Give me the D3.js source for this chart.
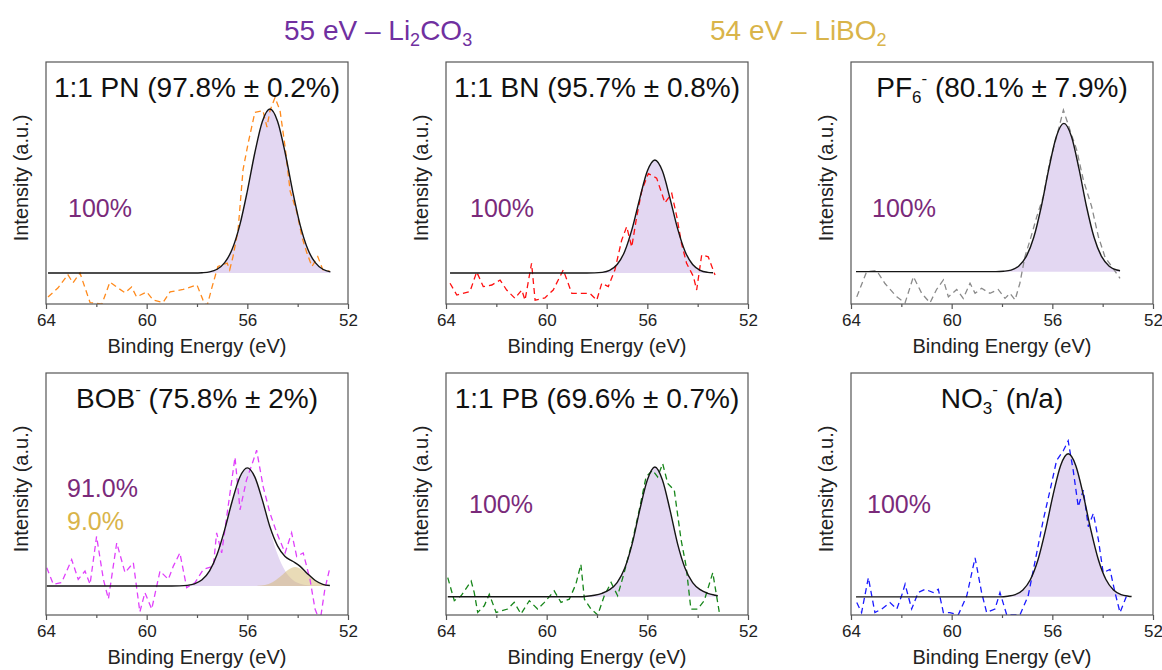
<!DOCTYPE html>
<html>
<head>
<meta charset="utf-8">
<script src="https://cdn.jsdelivr.net/npm/d3@7"></script>
<style>
  body { margin: 0; background: #fff; }
  svg text { font-family: "Liberation Sans", Arial, sans-serif; }
</style>
</head>
<body>
<svg id="chart" width="1162" height="670"></svg>
<script>
// binding energy axis (reversed, eV)
const energyDomain = [64, 52];
const majorTicks = [64, 60, 56, 52];
const minorTicks = [62, 58, 54];

// measured spectra, [eV, intensity normalised to fitted peak]
const pnRaw = [[63.92,-0.146],[63.52,-0.09],[63.13,-0.01],[62.93,-0.06],[62.65,0.0],[62.25,-0.18],[61.78,-0.19],
  [61.46,-0.055],[61.2,-0.085],[60.86,-0.12],[60.6,-0.085],[60.4,-0.146],[60.0,-0.115],[59.74,-0.165],[59.35,-0.18],
  [59.07,-0.115],[58.55,-0.1],[58.0,-0.073],[57.76,-0.165],[57.6,-0.2],[57.4,-0.085],[57.17,0.04],[56.8,0.06],
  [56.7,0.02],[56.57,0.1],[56.37,0.26],[56.17,0.63],[55.97,0.79],[55.7,0.98],[55.38,0.99],[55.22,0.89],[55.1,0.99],
  [54.9,1.07],[54.7,0.99],[54.5,0.77],[54.3,0.5],[54.03,0.37],[53.83,0.22],[53.63,0.12],[53.43,0.04],[53.2,0.1],
  [53.0,0.02],[52.72,0.01]];
const bnRaw = [[63.84,-0.09],[63.57,-0.195],[63.05,-0.165],[62.78,0.01],[62.52,-0.12],[62.18,-0.106],[61.85,-0.062],
  [61.59,-0.15],[61.26,-0.224],[60.99,-0.15],[60.86,-0.24],[60.6,0.086],[60.46,-0.24],[60.07,-0.22],[59.74,-0.15],
  [59.34,0.027],[59.0,-0.18],[58.6,-0.18],[58.28,-0.18],[58.01,-0.24],[57.81,-0.09],[57.55,-0.12],[57.29,0.027],
  [57.02,0.29],[56.82,0.41],[56.62,0.23],[56.42,0.5],[56.22,0.73],[55.96,0.88],[55.63,0.84],[55.3,0.62],[55.03,0.705],
  [54.83,0.5],[54.64,0.26],[54.44,0.086],[54.17,-0.03],[54.04,-0.15],[53.84,0.16],[53.58,0.144],[53.31,-0.018]];
const pf6Raw = [[63.77,-0.17],[63.38,0.0],[62.98,0.007],[62.65,-0.08],[62.18,-0.17],[61.85,-0.21],[61.52,-0.034],
  [61.19,-0.146],[60.86,-0.21],[60.6,-0.12],[60.33,-0.056],[60.13,-0.17],[59.8,-0.12],[59.54,-0.18],[59.27,-0.078],
  [59.07,-0.146],[58.81,-0.112],[58.48,-0.146],[58.15,-0.12],[57.88,-0.18],[57.68,-0.146],[57.48,-0.19],[57.29,-0.078],
  [57.09,0.1],[56.89,0.21],[56.62,0.37],[56.36,0.506],[56.09,0.75],[55.83,0.91],[55.56,1.09],[55.3,0.955],[55.03,0.82],
  [54.77,0.62],[54.44,0.44],[54.17,0.236],[53.91,0.1],[53.64,0.034],[53.31,-0.045]];
const bobRaw = [[63.97,0.155],[63.71,0.014],[63.38,0.028],[62.98,0.224],[62.72,0.056],[62.45,0.126],[62.25,0.014],
  [61.99,0.42],[61.72,0.056],[61.52,-0.11],[61.19,0.365],[60.86,0.113],[60.53,0.197],[60.27,-0.22],[60.07,-0.056],
  [59.8,-0.196],[59.47,0.126],[59.14,0.056],[58.94,0.168],[58.68,0.28],[58.41,-0.014],[58.08,0.028],[57.75,0.14],
  [57.35,0.168],[57.22,0.45],[57.02,0.28],[56.69,0.785],[56.49,1.09],[56.29,0.645],[56.03,0.9],[55.76,1.065],
  [55.63,1.15],[55.37,0.84],[55.1,0.617],[54.83,0.45],[54.5,0.28],[54.24,0.45],[54.04,0.25],[53.78,0.28],[53.51,0.056],
  [53.31,-0.196],[53.11,-0.3],[52.92,-0.028],[52.72,0.155]];
const pbRaw = [[63.93,0.148],[63.67,-0.03],[63.4,0.008],[63.0,0.122],[62.88,0.034],[62.74,-0.12],[62.48,-0.069],
  [62.28,0.02],[62.01,-0.12],[61.55,-0.094],[61.29,-0.043],[61.02,-0.132],[60.69,-0.03],[60.36,-0.094],[60.09,-0.043],
  [59.7,0.046],[59.43,-0.043],[59.1,-0.018],[58.84,0.097],[58.64,0.25],[58.5,-0.018],[58.24,-0.094],[57.97,-0.14],
  [57.71,0.008],[57.44,0.11],[57.18,0.008],[56.92,0.186],[56.58,0.44],[56.32,0.67],[56.05,0.924],[55.79,0.975],
  [55.59,0.924],[55.39,1.026],[55.19,0.873],[54.93,0.822],[54.66,0.44],[54.46,0.237],[54.27,-0.094],[54.0,-0.094],
  [53.74,-0.03],[53.4,0.186],[53.14,-0.12]];
const no3Raw = [[63.77,-0.04],[63.58,-0.11],[63.31,0.134],[63.05,-0.11],[62.78,-0.085],[62.45,-0.04],[62.18,-0.085],
  [61.99,0.007],[61.85,0.088],[61.59,-0.085],[61.33,0.03],[61.06,0.053],[60.73,0.03],[60.53,0.053],[60.33,-0.11],
  [60.07,-0.11],[59.74,-0.127],[59.4,0.007],[59.07,0.273],[58.81,0.03],[58.61,-0.11],[58.28,-0.085],[58.08,0.03],
  [57.81,-0.127],[57.29,-0.127],[56.96,0.007],[56.62,0.307],[56.36,0.538],[56.09,0.746],[55.83,0.954],[55.56,1.023],
  [55.37,1.09],[55.17,0.884],[54.97,0.63],[54.77,0.746],[54.57,0.49],[54.37,0.584],[54.17,0.4],[53.98,0.169],
  [53.71,0.192],[53.51,0.03],[53.31,-0.11],[53.05,0.007]];

// fitted Li2CO3 component (55 eV)
const pnFit = [[63.92,0],[58.1,0],[57.8,0.002],[57.5,0.007],[57.2,0.023],[56.9,0.063],[56.6,0.146],[56.3,0.292],
  [56.0,0.5],[55.7,0.735],[55.4,0.926],[55.1,1],[54.8,0.926],[54.5,0.735],[54.2,0.5],[53.9,0.292],[53.6,0.146],
  [53.3,0.063],[53.0,0.023],[52.7,0.007]];
const bnFit = [[63.84,0],[58.4,0],[58.1,0.001],[57.8,0.006],[57.5,0.024],[57.2,0.075],[56.9,0.191],[56.6,0.395],
  [56.3,0.661],[56.0,0.902],[55.7,1],[55.4,0.902],[55.1,0.661],[54.8,0.395],[54.5,0.191],[54.2,0.075],[53.9,0.024],
  [53.6,0.006],[53.39,0.002]];
const pf6Fit = [[63.8,0],[58.24,0],[57.94,0.003],[57.64,0.011],[57.34,0.037],[57.04,0.101],[56.74,0.23],[56.44,0.438],
  [56.14,0.693],[55.84,0.912],[55.54,1],[55.24,0.912],[54.94,0.693],[54.64,0.438],[54.34,0.23],[54.04,0.101],
  [53.74,0.037],[53.44,0.011],[53.31,0.006]];
const bobFit = [[63.97,0],[59.0,0],[58.7,0.001],[58.4,0.005],[58.1,0.018],[57.8,0.052],[57.5,0.128],[57.2,0.268],
  [56.9,0.477],[56.6,0.72],[56.3,0.921],[56.0,1],[55.7,0.921],[55.4,0.72],[55.1,0.477],[54.8,0.268],[54.5,0.128],
  [54.2,0.052],[53.9,0.018],[53.6,0.005],[53.3,0.001],[53.0,0]];
const pbFit = [[63.93,0],[58.7,0],[58.4,0.004],[58.1,0.012],[57.8,0.027],[57.5,0.055],[57.2,0.11],[56.9,0.22],
  [56.6,0.41],[56.3,0.67],[56.0,0.9],[55.7,1],[55.4,0.9],[55.1,0.67],[54.8,0.41],[54.5,0.22],[54.2,0.11],[53.9,0.055],
  [53.6,0.027],[53.3,0.012],[53.2,0.008]];
const no3Fit = [[63.8,0],[58.07,0],[57.77,0.0045],[57.47,0.016],[57.17,0.048],[56.87,0.121],[56.57,0.259],
  [56.27,0.468],[55.97,0.713],[55.67,0.919],[55.37,1],[55.07,0.919],[54.77,0.713],[54.47,0.468],[54.17,0.259],
  [53.87,0.121],[53.57,0.048],[53.27,0.016],[52.97,0.0045],[52.85,0.002]];

// BOB- only: LiBO2 component (54 eV) and the summed envelope
const bobLiBO2 = [[55.6,0.002],[55.3,0.009],[55.0,0.032],[54.7,0.078],[54.4,0.134],[54.1,0.16],[53.8,0.134],
  [53.5,0.078],[53.2,0.032],[52.9,0.009],[52.72,0.004]];
const bobEnvelope = [[63.97,0],[59.0,0],[58.7,0.001],[58.4,0.005],[58.1,0.018],[57.8,0.052],[57.5,0.128],[57.2,0.268],
  [56.9,0.477],[56.6,0.72],[56.3,0.921],[56.0,1],[55.7,0.922],[55.4,0.725],[55.1,0.499],[54.8,0.34],[54.5,0.25],
  [54.2,0.209],[53.9,0.166],[53.6,0.102],[53.3,0.046],[53.0,0.014],[52.72,0.004]];

// labels
const titles = [
  [["1:1 PN (97.8% ± 0.2%)"]],
  [["1:1 BN (95.7% ± 0.8%)"]],
  [["PF"], ["6", "sub"], ["-", "sup"], [" (80.1% ± 7.9%)"]],
  [["BOB"], ["-", "sup"], [" (75.8% ± 2%)"]],
  [["1:1 PB (69.6% ± 0.7%)"]],
  [["NO"], ["3", "sub"], ["-", "sup"], [" (n/a)"]]
];
const li2co3Share = ["100%", "100%", "100%", "91.0%", "100%", "100%"];
const libo2Share = [null, null, null, "9.0%", null, null];

// layout
const PANEL_W = 302, PANEL_H = 242;
const colX = [46, 446, 851];
const rowY = [62, 373];
const yDomains = [[-0.189, 1.287], [-0.274, 1.867], [-0.218, 1.414], [-0.246, 1.804], [-0.14, 1.724], [-0.127, 1.565]];
const pctPos = [[22, 155], [24, 155], [21, 155], [21, 124], [23, 140], [16, 140]];

const PURPLE = "#7030a0";
const GOLD = "#d9b44a";
const PCT_PURPLE = "#7a2a7a";

const panels = [
  { raw: pnRaw, fit: pnFit, line: pnFit, color: "#ff8a1c" },
  { raw: bnRaw, fit: bnFit, line: bnFit, color: "#ff1010" },
  { raw: pf6Raw, fit: pf6Fit, line: pf6Fit, color: "#8a8a8a" },
  { raw: bobRaw, fit: bobFit, line: bobEnvelope, extra: bobLiBO2, color: "#e040fb" },
  { raw: pbRaw, fit: pbFit, line: pbFit, color: "#17861a" },
  { raw: no3Raw, fit: no3Fit, line: no3Fit, color: "#1a1aff" }
];

const svg = d3.select("#chart");

const x = d3.scaleLinear().domain(energyDomain).range([0, PANEL_W]);

// header
const header = svg.append("g").attr("font-size", 28);
const h1 = header.append("text").attr("x", 284).attr("y", 40).attr("fill", PURPLE);
h1.append("tspan").text("55 eV – Li");
h1.append("tspan").text("2").attr("font-size", 18).attr("dy", 6);
h1.append("tspan").text("CO").attr("dy", -6);
h1.append("tspan").text("3").attr("font-size", 18).attr("dy", 6);
const h2 = header.append("text").attr("x", 710).attr("y", 40).attr("fill", GOLD);
h2.append("tspan").text("54 eV – LiBO");
h2.append("tspan").text("2").attr("font-size", 18).attr("dy", 6);

// writes text runs with sub/superscripts into a <text>
function richText(sel, runs, small) {
  let shift = 0;
  runs.forEach(([s, kind]) => {
    const target = kind === "sub" ? 6 : kind === "sup" ? -13 : 0;
    const ts = sel.append("tspan").text(s).attr("dy", target - shift);
    if (kind) ts.attr("font-size", small);
    shift = target;
  });
}

panels.forEach((p, i) => {
  const left = colX[i % 3];
  const top = rowY[Math.floor(i / 3)];
  const y = d3.scaleLinear().domain(yDomains[i]).range([PANEL_H, 0]);

  const g = svg.append("g").attr("transform", `translate(${left},${top})`);

  g.append("clipPath").attr("id", "clip" + i)
    .append("rect").attr("width", PANEL_W).attr("height", PANEL_H);

  const plot = g.append("g").attr("clip-path", `url(#clip${i})`);

  const area = d3.area()
    .x(d => x(d[0]))
    .y0(y(0))
    .y1(d => y(d[1]))
    .curve(d3.curveMonotoneX);
  const line = d3.line()
    .x(d => x(d[0]))
    .y(d => y(d[1]))
    .curve(d3.curveMonotoneX);

  plot.append("path")
    .attr("d", area(p.fit))
    .attr("fill", "#e3d7f2");

  if (p.extra) {
    plot.append("path")
      .attr("d", area(p.extra))
      .attr("fill", "#d4b870")
      .attr("fill-opacity", 0.5);
  }

  plot.append("path")
    .attr("d", d3.line().x(d => x(d[0])).y(d => y(d[1]))(p.raw))
    .attr("fill", "none")
    .attr("stroke", p.color)
    .attr("stroke-width", 1.3)
    .attr("stroke-dasharray", "6,4");

  plot.append("path")
    .attr("d", line(p.line))
    .attr("fill", "none")
    .attr("stroke", "#151515")
    .attr("stroke-width", 1.4);

  // frame
  g.append("rect")
    .attr("width", PANEL_W)
    .attr("height", PANEL_H)
    .attr("fill", "none")
    .attr("stroke", "#555")
    .attr("stroke-width", 1.2);

  // x axis
  const major = g.append("g")
    .attr("transform", `translate(0,${PANEL_H})`)
    .call(d3.axisBottom(x).tickValues(majorTicks).tickSize(5).tickPadding(5).tickFormat(d3.format("d")));
  const minor = g.append("g")
    .attr("transform", `translate(0,${PANEL_H})`)
    .call(d3.axisBottom(x).tickValues(minorTicks).tickSize(3).tickFormat(""));
  [major, minor].forEach(a => {
    a.select(".domain").remove();
    a.selectAll("line").attr("stroke", "#555").attr("stroke-width", 1.2);
  });
  major.selectAll("text")
    .attr("font-size", 17)
    .attr("font-family", "Liberation Sans, Arial, sans-serif")
    .attr("fill", "#222");

  g.append("text")
    .attr("x", PANEL_W / 2)
    .attr("y", PANEL_H + 49)
    .attr("text-anchor", "middle")
    .attr("font-size", 20)
    .attr("fill", "#222")
    .text("Binding Energy (eV)");

  g.append("text")
    .attr("transform", `translate(-25,${PANEL_H / 2 - 5}) rotate(-90)`)
    .attr("text-anchor", "middle")
    .attr("dy", "0.35em")
    .attr("font-size", 20)
    .attr("fill", "#222")
    .text("Intensity (a.u.)");

  // title
  const t = g.append("text")
    .attr("x", PANEL_W / 2)
    .attr("y", 35)
    .attr("text-anchor", "middle")
    .attr("font-size", 28)
    .attr("fill", "#111");
  richText(t, titles[i], 17);

  // component shares
  g.append("text")
    .attr("x", pctPos[i][0])
    .attr("y", pctPos[i][1])
    .attr("font-size", 25)
    .attr("fill", PCT_PURPLE)
    .text(li2co3Share[i]);
  if (libo2Share[i]) {
    g.append("text")
      .attr("x", pctPos[i][0])
      .attr("y", pctPos[i][1] + 33)
      .attr("font-size", 25)
      .attr("fill", GOLD)
      .text(libo2Share[i]);
  }
});
</script>
</body>
</html>
